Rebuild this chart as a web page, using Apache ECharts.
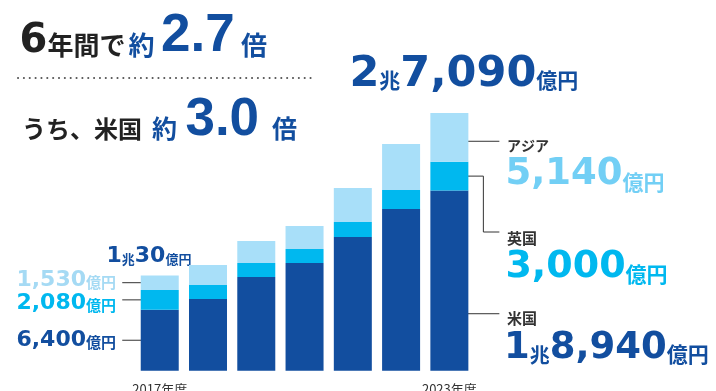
<!DOCTYPE html>
<html>
<head>
<meta charset="utf-8">
<script src="https://cdn.jsdelivr.net/npm/echarts@6/dist/echarts.min.js"></script>
<style>
  html, body { margin: 0; padding: 0; background: #fff; }
  #chart { width: 716px; height: 391px; }
</style>
</head>
<body>
<div id="chart"></div>
<script>
// Fiscal years on the x axis
const categories = ['2017年度', '2018年度', '2019年度', '2020年度', '2021年度', '2022年度', '2023年度'];
// Revenue by region, 億円
const usValues   = [6400, 7530, 9840, 11310, 14040, 16980, 18940];
const ukValues   = [2080, 1470, 1470, 1470, 1580, 2000, 3000];
const asiaValues = [1530, 2100, 2310, 2420, 3570, 4830, 5140];

const DARK = '#124e9f';
const CYAN = '#00b8ef';
const LIGHT = '#a8dff9';
const INK = '#222222';

const NUM = 'DejaVu Sans';
const TTL = 'Liberation Sans';
const JP = 'Noto Sans CJK JP';

const chart = echarts.init(document.getElementById('chart'));

chart.setOption({
  animation: false,
  grid: {
    left: 135.6, right: 242.5, top: 85.1, bottom: 20.3,
    containLabel: false, outerBoundsMode: 'none'
  },
  xAxis: {
    type: 'category',
    data: categories,
    axisLine: { show: false },
    axisTick: { show: false },
    axisLabel: {
      interval: (i) => i === 0 || i === categories.length - 1,
      color: '#333',
      fontFamily: JP,
      fontSize: 13,
      margin: 12
    }
  },
  yAxis: { type: 'value', min: 0, max: 30000, show: false },
  series: [
    { name: '米国', type: 'bar', stack: 'total', barWidth: 38, data: usValues, itemStyle: { color: DARK } },
    { name: '英国', type: 'bar', stack: 'total', barWidth: 38, data: ukValues, itemStyle: { color: CYAN } },
    { name: 'アジア', type: 'bar', stack: 'total', barWidth: 38, data: asiaValues, itemStyle: { color: LIGHT } }
  ]
});

// Rich text label; parts = [text, family, size, colour, padLeft, padBottom]
function label(x, y, parts, align) {
  const rich = {};
  let text = '';
  parts.forEach((p, i) => {
    const key = 't' + i;
    rich[key] = {
      fontFamily: p[1], fontSize: p[2], fontWeight: 'bold', fill: p[3],
      verticalAlign: 'bottom',
      padding: [0, 0, p[5] || 0, p[4] || 0]
    };
    text += '{' + key + '|' + p[0] + '}';
  });
  return {
    type: 'text', x: x, y: y, silent: true,
    style: { text: text, rich: rich, align: align || 'left', verticalAlign: 'bottom' }
  };
}

function px(cat, value) {
  return chart.convertToPixel({ xAxisIndex: 0, yAxisIndex: 0 }, [cat, value]);
}

function dot(p) {
  return { type: 'circle', silent: true, shape: { cx: p[0], cy: p[1], r: 2.3 }, style: { fill: INK } };
}
function poly(points) {
  return { type: 'polyline', silent: true, shape: { points: points }, style: { stroke: '#333', lineWidth: 1, fill: null } };
}

const first = 0;
const last = categories.length - 1;

// Leader anchors: a point inside each segment of the first and last bars
const f0 = [usValues[first] * 0.5,
            usValues[first] + ukValues[first] * 0.5,
            usValues[first] + ukValues[first] + asiaValues[first] * 0.5];
const l0 = [usValues[last] * 0.316,
            usValues[last] + ukValues[last] * 0.5,
            usValues[last] + ukValues[last] + asiaValues[last] * 0.42];

const graphics = [];

// Left leaders (2017)
f0.forEach((v) => {
  const p = px(first, v);
  graphics.push(poly([[p[0] - 37.5, p[1]], [p[0], p[1]]]));
  graphics.push(dot(p));
});

// Right leaders (2023)
const pUS = px(last, l0[0]);
const pUK = px(last, l0[1]);
const pAS = px(last, l0[2]);
graphics.push(poly([[pAS[0], pAS[1]], [pAS[0] + 50, pAS[1]]]));
graphics.push(poly([[pUK[0], pUK[1]], [pUK[0] + 34, pUK[1]], [pUK[0] + 34, 232], [pUK[0] + 50, 232]]));
graphics.push(poly([[pUS[0], pUS[1]], [pUS[0] + 50, pUS[1]]]));
graphics.push(dot(pAS), dot(pUK), dot(pUS));

// Headline
graphics.push(label(19.6, 61.4, [
  ['6', NUM, 40, INK],
  ['年間で', JP, 26, INK, 0, 3],
  ['約', JP, 26, DARK, 3, 3]
]));
graphics.push(label(161, 63.2, [['2.7', TTL, 53, DARK]]));
graphics.push(label(241, 58.2, [['倍', JP, 26, DARK]]));

// Dotted rule
graphics.push({
  type: 'line', silent: true,
  shape: { x1: 18, y1: 78, x2: 312, y2: 78 },
  style: { stroke: '#555', lineWidth: 2, lineDash: [0.1, 5.75], lineCap: 'round' }
});

graphics.push(label(22, 141.1, [
  ['うち、米国', JP, 24, INK],
  ['約', JP, 25, DARK, 10]
]));
graphics.push(label(185.4, 147.2, [['3.0', TTL, 53, DARK]]));
graphics.push(label(272, 141.1, [['倍', JP, 25, DARK]]));

// Total for the latest year
graphics.push(label(349.4, 96.4, [
  ['2', NUM, 43, DARK],
  ['兆', JP, 21, DARK, 0, 6],
  ['7,090', NUM, 43, DARK],
  ['億円', JP, 21, DARK, 0, 6]
]));

// Total for the first year
graphics.push(label(106.5, 267.4, [
  ['1', NUM, 22, DARK],
  ['兆', JP, 13, DARK, 0, 2],
  ['30', NUM, 22, DARK],
  ['億円', JP, 13, DARK, 0, 2]
]));

// First-year segment values
graphics.push(label(116, 291.2, [['1,530', NUM, 22, '#a5daf4'], ['億円', JP, 15, '#a5daf4', 0, 1]], 'right'));
graphics.push(label(116, 314.2, [['2,080', NUM, 22, CYAN], ['億円', JP, 15, CYAN, 0, 1]], 'right'));
graphics.push(label(116, 351.2, [['6,400', NUM, 22, DARK], ['億円', JP, 15, DARK, 0, 1]], 'right'));

// Latest-year segment values
graphics.push(label(507, 153, [['アジア', JP, 14, '#333']]));
graphics.push(label(505.4, 192.7, [['5,140', NUM, 37, '#72cff5'], ['億円', JP, 21, '#72cff5']]));
graphics.push(label(507, 245.3, [['英国', JP, 15, '#333']]));
graphics.push(label(505.4, 286, [['3,000', NUM, 38, CYAN], ['億円', JP, 21, CYAN, 0, 1.5]]));
graphics.push(label(507, 325.3, [['米国', JP, 15, '#333']]));
graphics.push(label(504, 367, [
  ['1', NUM, 37, DARK],
  ['兆', JP, 20, DARK, 0, 2],
  ['8,940', NUM, 37, DARK],
  ['億円', JP, 21, DARK, 0, 2]
]));

chart.setOption({ graphic: graphics });
</script>
</body>
</html>
